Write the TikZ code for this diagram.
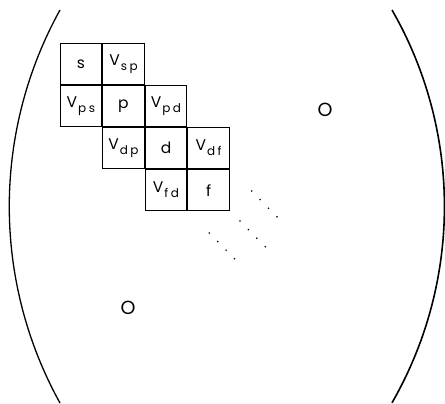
\documentclass[tikz,border=0pt]{standalone}
\usepackage{fontspec}
\setmainfont{Poppins}
\usepackage{tikz}
\usetikzlibrary{positioning}

\newcommand{\cellfont}{\fontsize{15.5}{17}\selectfont}
\newcommand{\Vsub}[2]{V\kern1pt\raisebox{-5pt}{\fontsize{12}{13}\selectfont #1\kern2.5pt#2}}

\tikzset{
  cell/.style={draw, line width=0.8pt, minimum width=41.75pt, minimum height=41.25pt,
    inner sep=0pt, font=\cellfont},
  bracket/.style={line width=1.3pt},
  dotrow/.style={fill=black}
}

\begin{document}
\begin{tikzpicture}[x=1pt,y=1pt, node distance=0pt]
  \useasboundingbox (0,0) rectangle (445,404);

  % the band of blocks
  \node[cell] (s) at (80.9,340) {s};
  \node[cell, right=of s] (vsp) {\Vsub{s}{p}};
  \node[cell, below=of s] (vps) {\Vsub{p}{s}};
  \node[cell, right=of vps] (p) {p};
  \node[cell, right=of p] (vpd) {\Vsub{p}{d}};
  \node[cell, below=of p] (vdp) {\Vsub{d}{p}};
  \node[cell, right=of vdp] (d) {d};
  \node[cell, right=of d] (vdf) {\Vsub{d}{f}};
  \node[cell, below=of d] (vfd) {\Vsub{f}{d}};
  \node[cell, right=of vfd] (f) {f};

  % continuation dots
  \foreach \sx/\sy in {251.7/213, 240/183, 209.3/171}
    \foreach \k in {0,...,3}
      \fill[dotrow] (\sx+8.4*\k, \sy-8.6*\k) circle[radius=0.9];

  % zero blocks
  \node[font=\fontsize{19}{20}\selectfont] (zeroA) at (325,294) {O};
  \node[font=\fontsize{19}{20}\selectfont] (zeroB) at (128,96) {O};

  % brackets
  \draw[bracket] (60,394) arc[start angle=151.05, end angle=208.95, radius=406];
  \draw[bracket, line width=1.6pt] (392,394) arc[start angle=29.9, end angle=-29.9, radius=394];
\end{tikzpicture}
\end{document}
